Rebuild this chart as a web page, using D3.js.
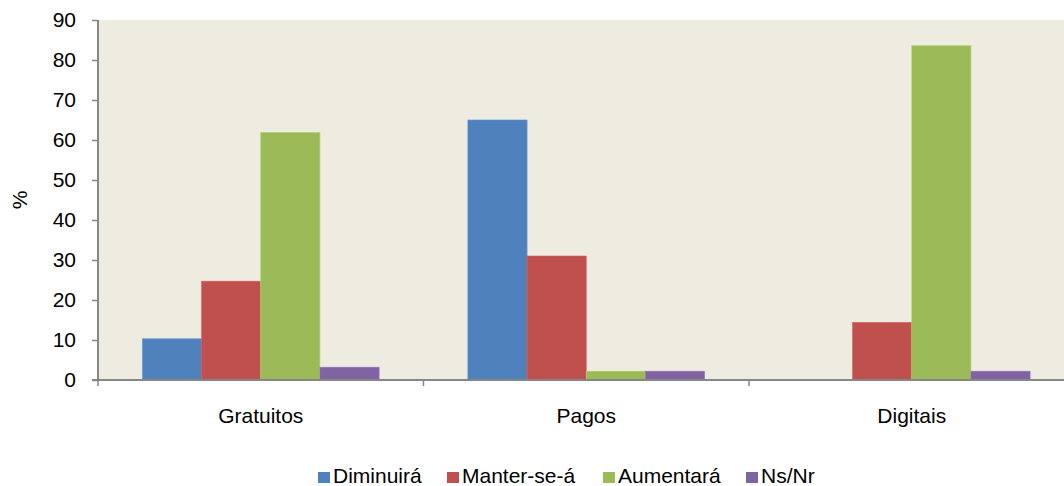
<!DOCTYPE html>
<html>
<head>
<meta charset="utf-8">
<script src="https://cdn.jsdelivr.net/npm/d3@7"></script>
<style>
  html, body { margin: 0; padding: 0; background: #fff; }
  svg { display: block; font-family: "Liberation Sans", Arial, sans-serif; }
</style>
</head>
<body>
<svg id="chart" width="1064" height="486"></svg>
<script>
// Categories, series and values (%)
const categories = ["Gratuitos", "Pagos", "Digitais"];
const seriesNames = ["Diminuirá", "Manter-se-á", "Aumentará", "Ns/Nr"];
const seriesColors = ["#4F81BD", "#C0504D", "#9BBB59", "#8064A2"];
const diminuira = [10.3, 65.0, 0];
const manterSeA = [24.7, 31.0, 14.4];
const aumentara = [61.9, 2.2, 83.6];
const nsNr = [3.2, 2.2, 2.2];
const yTicks = [0, 10, 20, 30, 40, 50, 60, 70, 80, 90];

const seriesValues = [diminuira, manterSeA, aumentara, nsNr];

const svg = d3.select("#chart");
const margin = { top: 20, left: 98 };
const plotW = 976.5, plotH = 360;
const fontSize = 21;

const x0 = d3.scaleBand().domain(categories).range([0, plotW]).paddingInner(0).paddingOuter(0);
const x1 = d3.scaleBand().domain(seriesNames)
  .range([0, x0.bandwidth()]).paddingInner(0).paddingOuter(0.75);
const y = d3.scaleLinear().domain([0, 90]).range([plotH, 0]);

const g = svg.append("g").attr("transform", `translate(${margin.left},${margin.top})`);

// Plot background
g.append("rect").attr("x", 0).attr("y", 0).attr("width", plotW).attr("height", plotH)
  .attr("fill", "#EEEBE0");

// Bars
const rows = categories.map((c, i) => ({
  cat: c,
  vals: seriesNames.map((s, j) => ({ s, v: seriesValues[j][i], color: seriesColors[j] }))
}));

const grp = g.selectAll("g.cat").data(rows).join("g")
  .attr("class", "cat")
  .attr("transform", d => `translate(${x0(d.cat)},0)`);

grp.selectAll("rect").data(d => d.vals.filter(v => v.v > 0)).join("rect")
  .attr("x", d => x1(d.s))
  .attr("y", d => y(d.v))
  .attr("width", x1.bandwidth())
  .attr("height", d => plotH - y(d.v))
  .attr("fill", d => d.color)
  .attr("stroke", d => d3.color(d.color).brighter(0.4))
  .attr("stroke-width", 0.6);

// Y axis
const yAxis = g.append("g")
  .call(d3.axisLeft(y).tickValues(yTicks).tickSize(6).tickPadding(16));
yAxis.select(".domain").attr("stroke", "#868686").attr("stroke-width", 2)
  .attr("d", `M0,0V${plotH}`);
yAxis.selectAll(".tick line").attr("stroke", "#868686").attr("stroke-width", 1.5);
yAxis.selectAll(".tick text").attr("font-size", fontSize).attr("fill", "#000")
  .attr("font-family", "Liberation Sans, Arial, sans-serif");

// X axis with ticks at category boundaries
const xAxisG = g.append("g").attr("transform", `translate(0,${plotH})`);
xAxisG.append("line").attr("x1", -6).attr("x2", plotW).attr("y1", 0).attr("y2", 0)
  .attr("stroke", "#868686").attr("stroke-width", 2);
const boundaries = categories.map(c => x0(c)).concat([plotW]);
xAxisG.selectAll("line.b").data(boundaries).join("line").attr("class", "b")
  .attr("x1", d => d).attr("x2", d => d).attr("y1", 0).attr("y2", 6)
  .attr("stroke", "#868686").attr("stroke-width", 1.5);
xAxisG.selectAll("text").data(categories).join("text")
  .attr("x", d => x0(d) + x0.bandwidth() / 2)
  .attr("y", 43)
  .attr("text-anchor", "middle")
  .attr("font-size", fontSize).attr("fill", "#000")
  .text(d => d);

// Y axis title
svg.append("text")
  .attr("transform", "translate(27,200) rotate(-90)")
  .attr("text-anchor", "middle")
  .attr("font-size", fontSize).attr("fill", "#000")
  .text("%");

// Legend
const legendX = [318, 447, 603, 746];
const legend = svg.append("g").selectAll("g").data(seriesNames).join("g")
  .attr("transform", (d, i) => `translate(${legendX[i]},472)`);
legend.append("rect").attr("x", 0).attr("y", 0).attr("width", 12).attr("height", 11)
  .attr("fill", (d, i) => seriesColors[i]);
legend.append("text").attr("x", 15).attr("y", 11)
  .attr("font-size", fontSize).attr("fill", "#000")
  .text(d => d);
</script>
</body>
</html>
